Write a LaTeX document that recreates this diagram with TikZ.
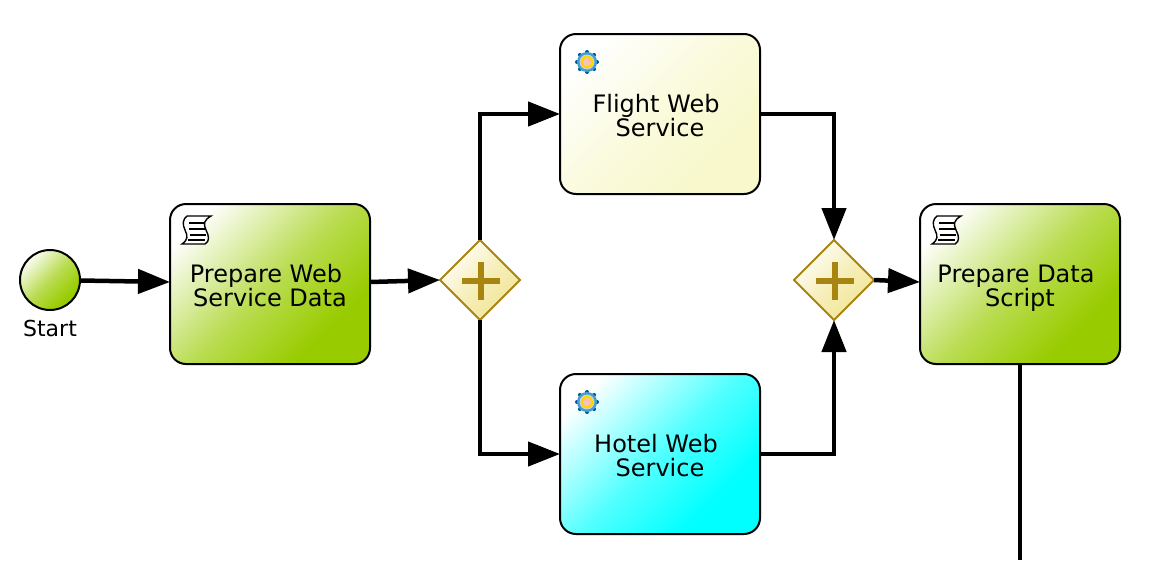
\documentclass[tikz,border=0pt]{standalone}
\usepackage{fontspec}
\setmainfont{DejaVu Sans}
\usetikzlibrary{arrows.meta}
\usetikzlibrary{shapes.geometric}
\definecolor{taskgreen}{HTML}{99CC00}
\definecolor{taskyellow}{HTML}{F8F8CC}
\definecolor{taskcyan}{HTML}{00FFFF}
\definecolor{gatefill}{HTML}{F3E79C}
\definecolor{gateline}{HTML}{A88410}
\newcommand{\declarefade}[2]{%
  \pgfdeclareverticalshading{#1}{100bp}{color(0bp)=(#2); color(30bp)=(#2); color(50bp)=(#2!68!white); color(77bp)=(white); color(100bp)=(white)}}
\declarefade{fadegreen}{taskgreen}
\declarefade{fadeyellow}{taskyellow}
\declarefade{fadecyan}{taskcyan}
\declarefade{fadegate}{gatefill}
\tikzset{%
  myedge/.style={-{Triangle[length=32,width=24]}, line width=4.5, black},
  mytask/.style={rectangle, draw=black, line width=2, rounded corners=16, minimum width=200, minimum height=160, outer sep=0, inner sep=0, align=center, font=\fontsize{24}{24}\selectfont, shading=#1, shading angle=45},
  mygate/.style={diamond, draw=gateline, line width=2, minimum width=80, minimum height=80, inner sep=0, outer sep=0, shading=fadegate, shading angle=45},
  mystart/.style={circle, draw=black, line width=2, minimum size=60, inner sep=0, outer sep=0, shading=fadegreen, shading angle=45}
}
\newcommand{\lead}[1]{\mbox{\rule{0pt}{20pt}\smash{#1}\kern8pt}}
\newcommand{\tail}[1]{\mbox{\rule{0pt}{20pt}\smash{#1}}}

\begin{document}
\begin{tikzpicture}[x=1pt, y=-1pt]
\useasboundingbox (0,0) rectangle (1158,560);

\node [mystart] (start) at (50,280) {};
\node [font=\fontsize{22}{24}\selectfont] (startlabel) at (50,328) {Start};

\node [mytask=fadegreen] (prepweb) at (270,284) {\lead{Prepare Web}\\\tail{Service Data}};
\node [mytask=fadeyellow] (flight) at (660,114) {\lead{Flight Web}\\\tail{Service}};
\node [mytask=fadecyan] (hotel) at (660,454) {\lead{Hotel Web}\\\tail{Service}};
\node [mytask=fadegreen] (prepdata) at (1020,284) {\lead{Prepare Data}\\\tail{Script}};

\node [mygate] (split) at (480,280) {};
\node [mygate] (join) at (834,280) {};
\coordinate (down) at (1020,560);

% plus signs
\foreach \g in {split, join} {
  \draw [gateline, line width=6] ([xshift=-18,yshift=-1]\g.center) -- ([xshift=20,yshift=-1]\g.center);
  \draw [gateline, line width=6] ([xshift=1,yshift=-20]\g.center) -- ([xshift=1,yshift=18]\g.center);
}

% script icons
\foreach \t in {prepweb, prepdata} {
  \begin{scope}[shift={(\t.center)}, shift={(-88,-68)}]
    \draw [black, line width=1.4, fill=white] (5,0) -- (29,0)
      .. controls (22,4) and (21,8) .. (24,14) .. controls (27,20) and (28,25) .. (23,28)
      -- (0,28) .. controls (6,24) and (6,20) .. (3,14) .. controls (0,8) and (1,3) .. (5,0) -- cycle;
    \foreach \y/\a/\b in {7/7/22, 13/7/23, 19/8/24, 24/6/23}
      \draw [black, line width=1.6] (\a,\y) -- (\b,\y);
  \end{scope}
}

% service icons
\foreach \t in {flight, hotel} {
  \begin{scope}[shift={(\t.center)}, shift={(-73,-52)}]
    \foreach \a in {0,45,...,315}
      \fill [blue!45!cyan!60!black] (\a:10) circle (2);
    \fill [blue!35!cyan!75!black!75] (0,0) circle (10);
    \fill [white!80!blue] (0,0) circle (7.5);
    \fill [yellow!75!orange] (0,0) circle (6.5);
    \fill [red!25!white] (0,0) circle (4);
  \end{scope}
}

% flows
\draw [myedge] (start) -- ([yshift=2]prepweb.west);
\draw [myedge] ([yshift=2]prepweb.east) -- (split.west);
\draw [myedge] (split.north) |- (flight.west);
\draw [myedge] (split.south) |- (hotel.west);
\draw [myedge] (flight.east) -| (join.north);
\draw [myedge] (hotel.east) -| (join.south);
\draw [myedge] (join.east) -- ([yshift=2]prepdata.west);
\draw [black, line width=4.5] (prepdata.south) -- (down);

\end{tikzpicture}
\end{document}
